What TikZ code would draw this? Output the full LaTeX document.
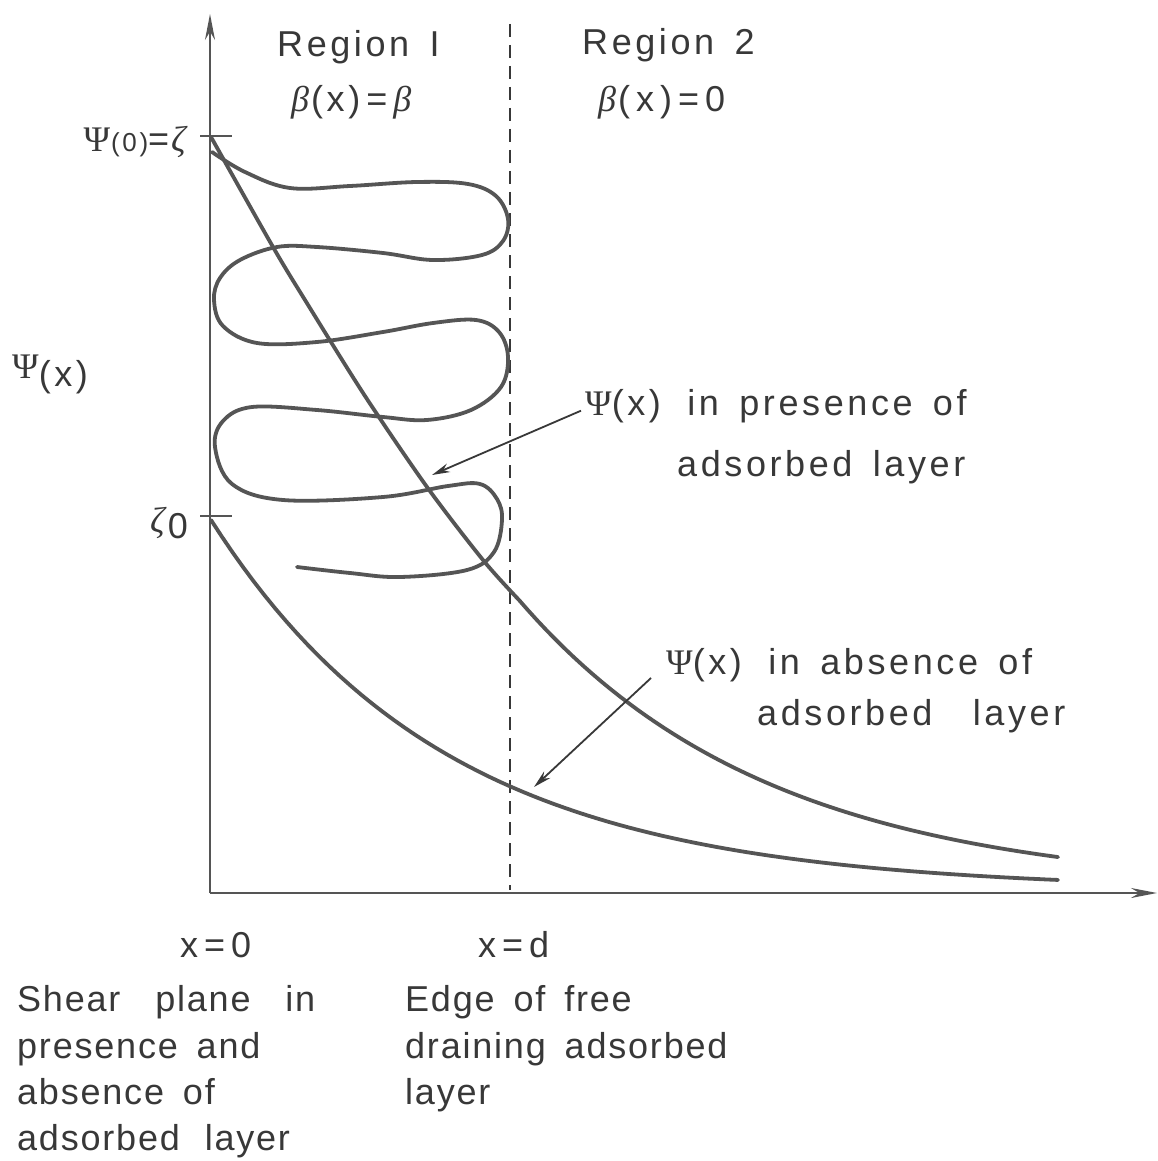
\documentclass[tikz,border=0pt]{standalone}
\usepackage{fontspec}
\setmainfont{Liberation Sans}[LetterSpace=10,WordSpace=1.5]
\newfontfamily\btm{Liberation Sans}[LetterSpace=5,WordSpace=1.6]
\newfontfamily\grk{Liberation Serif}
\newcommand{\gPsi}{{\grk Ψ}}
\newcommand{\gbeta}{{\grk\itshape β}}
\newcommand{\gzeta}{{\grk\itshape ζ}}
\newcommand{\wgap}[1]{\kern#1pt\relax}
\usetikzlibrary{arrows.meta}
\definecolor{ink}{HTML}{555555}
\definecolor{txt}{HTML}{383838}
\tikzset{
  lbl/.style={inner sep=0pt, text=txt, font=\fontsize{36}{44}\selectfont},
  blbl/.style={inner sep=0pt, text=txt, font=\btm\fontsize{36}{44}\selectfont},
  curve/.style={draw=ink, line width=3.8pt, line cap=round, line join=round},
  axis/.style={draw=ink, line width=2.6pt},
  axtip/.style={-{Stealth[length=26pt,width=10pt]}},
  pointer/.style={draw=txt, line width=1.8pt, -{Stealth[length=18pt,width=9pt]}},
  tick/.style={draw=ink, line width=2.6pt},
  divider/.style={draw=txt, line width=2.4pt, dash pattern=on 13pt off 8pt}
}
\begin{document}
\begin{tikzpicture}[x=1pt,y=-1pt]
\useasboundingbox (0,0) rectangle (1158,1161);
\fill[white] (0,0) rectangle (1158,1161);
% axes
\coordinate (O) at (210,893);
\coordinate (ytop) at (210,14);
\coordinate (xend) at (1157,893);
\draw[axis,axtip] (O) -- (ytop);
\draw[axis,axtip] (O) -- (xend);
% ticks
\coordinate (zt) at (210,136);
\coordinate (z0) at (210,516);
\draw[tick] ([xshift=-10pt]zt) -- ([xshift=22pt]zt);
\draw[tick] ([xshift=-10pt]z0) -- ([xshift=22pt]z0);
% dashed divider
\coordinate (dtop) at (510,24);
\coordinate (dbot) at (510,890);
\draw[divider] (dtop) -- (dbot);
% upper curve
\draw[curve] plot[smooth,tension=0.5] coordinates {(211,137) (273,247) (305,300) (365,396) (427,487) (483,560) (519,600)}
  -- plot[domain=519:1058,samples=60] (\x,{890.7-290.7*exp(-(\x-519)/250)});
% lower curve
\draw[curve] plot[domain=211:1058,samples=80] (\x,{890-370*exp(-(\x-211)/235)});
% looping curve
\draw[curve] plot[smooth,tension=0.6] coordinates {
(212,152) (245,172) (290,188) (350,186) (417,182) (468,184) (496,196) (508,219) (503,241) (482,255) (433,260) (383,253) (317,247) (277,247) (240,260) (220,278) (214,300)
(223,326) (257,343) (317,342) (383,332) (433,323) (476,320) (499,332) (508,357) (501,387) (471,410) (427,420) (383,417) (317,410) (252,407) (223,421) (215,447)
(232,484) (283,500) (383,497) (448,486) (480,484) (497,499) (502,520) (494,552) (467,570) (400,577) (350,573) (297,567)};
% labels
\node[lbl,anchor=base west] (r1) at (277,57) {Region I};
\node[lbl,anchor=base west] (b1) at (291,112) {\gbeta\kern2pt(x)\,=\,\gbeta};
\node[lbl,anchor=base west] (r2) at (582,55) {Region 2};
\node[lbl,anchor=base west] (b2) at (598,112) {\gbeta\kern2pt(\,x\,)\,=\,0};
\node[lbl,anchor=base east] (psi0) at (186,152) {\gPsi\kern1pt{\fontsize{26}{30}\selectfont(0)}=\kern2pt\gzeta};
\node[lbl,anchor=base east] (zeta0) at (188,532) {\gzeta\kern3pt\raisebox{-6pt}{0}};
\node[lbl,anchor=base west] (psix) at (12,378) {\gPsi\raisebox{-8pt}{(x)}};
\node[lbl,anchor=base west] (pres1) at (585,415) {\gPsi(x)\, in presence of};
\node[lbl,anchor=base west] (pres2) at (677,476) {adsorbed layer};
\node[lbl,anchor=base west] (abs1) at (666,674) {\gPsi(x)\, in absence of};
\node[lbl,anchor=base west] (abs2) at (757,725) {adsorbed \wgap{20}layer};
\node[lbl,anchor=base west] (x0) at (180,957) {x\,=\,0};
\node[lbl,anchor=base west] (xd) at (478,957) {x\,=\,d};
\node[blbl,anchor=base west] (s1) at (17,1011) {Shear \wgap{16}plane \wgap{16}in};
\node[blbl,anchor=base west] (s2) at (17,1058) {presence and};
\node[blbl,anchor=base west] (s3) at (17,1104) {absence of};
\node[blbl,anchor=base west] (s4) at (17,1150) {adsorbed\, layer};
\node[blbl,anchor=base west] (e1) at (405,1011) {Edge of free};
\node[blbl,anchor=base west] (e2) at (405,1058) {draining adsorbed};
\node[blbl,anchor=base west] (e3) at (405,1104) {layer};
% pointers
\coordinate (ptop) at (432,475);
\coordinate (pbot) at (534,787);
\draw[pointer] ([xshift=-4pt,yshift=-5pt]pres1.west) -- (ptop);
\draw[pointer] (651,678) -- (pbot);
\end{tikzpicture}
\end{document}
